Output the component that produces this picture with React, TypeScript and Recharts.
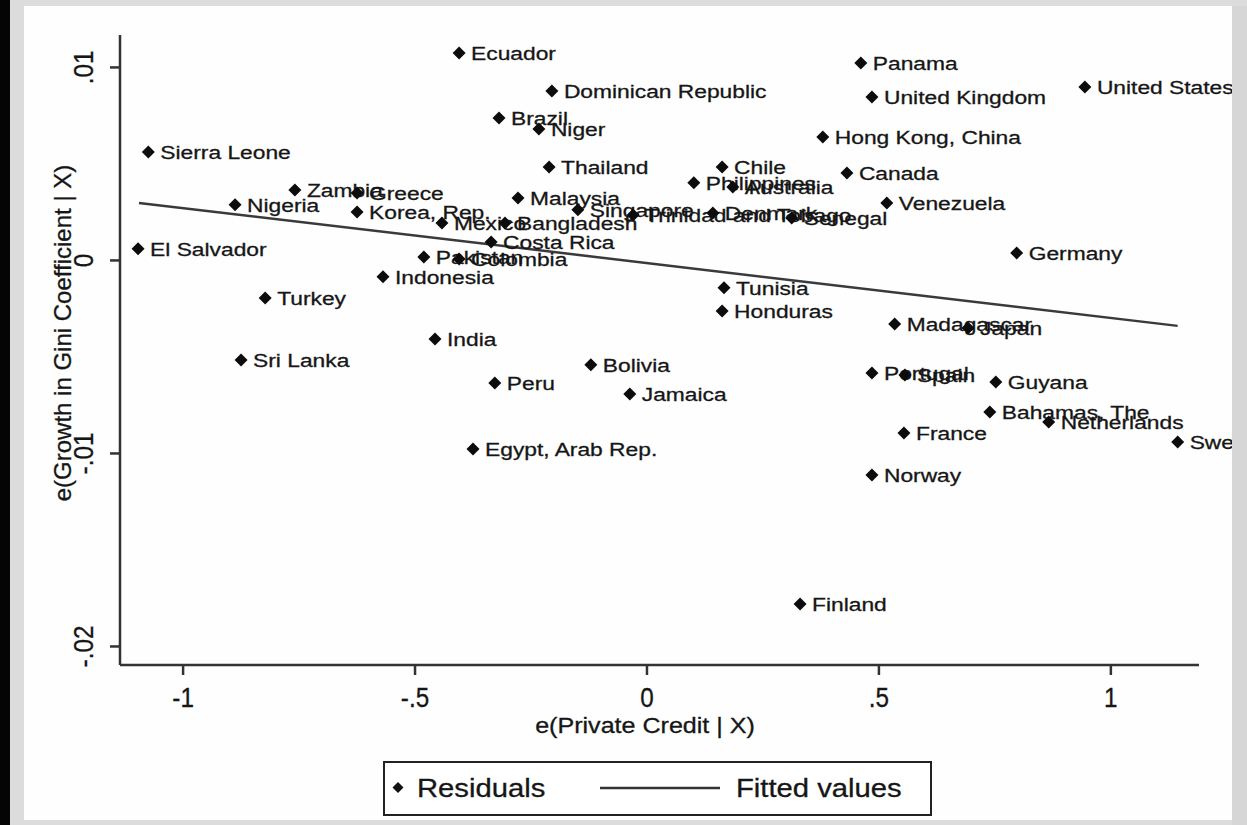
import React from "react";
import { ScatterChart, Scatter, XAxis, YAxis } from "recharts";

// residual plot: e(Growth in Gini | X) vs e(Private Credit | X)
const countries = [
  "Ecuador", "Dominican Republic", "Brazil", "Niger", "Sierra Leone", "Thailand",
  "Zambia", "Greece", "Nigeria", "Korea, Rep.", "Malaysia", "Mexico", "Bangladesh",
  "Singapore", "Trinidad and Tobago", "Denmark", "Senegal", "Costa Rica", "Pakistan",
  "Colombia", "El Salvador", "Indonesia", "Turkey", "India", "Sri Lanka", "Peru",
  "Egypt, Arab Rep.", "Bolivia", "Jamaica", "Tunisia", "Honduras", "Chile",
  "Philippines", "Australia", "Canada", "Hong Kong, China", "United Kingdom", "Panama",
  "United States", "Venezuela", "Germany", "Madagascar", "Japan", "Portugal", "Spain",
  "Guyana", "Bahamas, The", "Netherlands", "Sweden", "France", "Norway", "Finland",
];

const privateCredit = [
  -0.405, -0.205, -0.319, -0.233, -1.075, -0.211,
  -0.759, -0.625, -0.888, -0.625, -0.278, -0.442, -0.306,
  -0.149, -0.03, 0.142, 0.312, -0.336, -0.481,
  -0.405, -1.097, -0.569, -0.823, -0.457, -0.875, -0.328,
  -0.375, -0.121, -0.037, 0.166, 0.162, 0.162,
  0.101, 0.185, 0.431, 0.379, 0.485, 0.461,
  0.944, 0.517, 0.797, 0.534, 0.692, 0.485, 0.556,
  0.752, 0.739, 0.866, 1.144, 0.554, 0.485, 0.33,
];

const giniGrowth = [
  0.01075, 0.00878, 0.00738, 0.00681, 0.00562, 0.00484,
  0.00365, 0.0035, 0.00288, 0.00251, 0.00324, 0.00194, 0.00194,
  0.00262, 0.00236, 0.00246, 0.0022, 0.00096, 0.00018,
  0.00008, 0.0006, -0.00085, -0.00194, -0.00407, -0.00516, -0.00635,
  -0.00977, -0.00541, -0.00692, -0.00142, -0.00262, 0.00484,
  0.00402, 0.00381, 0.00453, 0.0064, 0.00847, 0.01023,
  0.00899, 0.00298, 0.00039, -0.00329, -0.0035, -0.00583, -0.00593,
  -0.0063, -0.00785, -0.00837, -0.0094, -0.00894, -0.01111, -0.0178,
];

const fittedX = [-1.095, 1.144];
const fittedY = [0.00298, -0.00339];

const xTicks = [-1, -0.5, 0, 0.5, 1];
const yTicks = [-0.02, -0.01, 0, 0.01];

const residuals = countries.map((name, i) => ({ name, x: privateCredit[i], y: giniGrowth[i] }));
const fitted = fittedX.map((x, i) => ({ x, y: fittedY[i] }));

const FONT = "'Liberation Sans', Arial, Helvetica, sans-serif";
const INK = "#161616";

// stata drops the leading zero
const fmt = (v: number) => (v === 0 ? "0" : String(v).replace(/^(-?)0\./, "$1."));

const CountryPoint = (props: any) => {
  const { cx, cy, payload } = props;
  if (cx == null || cy == null) return null;
  return (
    <g>
      <polygon
        points={`${cx},${cy - 6.5} ${cx + 6.5},${cy} ${cx},${cy + 6.5} ${cx - 6.5},${cy}`}
        fill="#0c0c0c"
      />
      <text
        transform={`translate(${cx + 12},${cy}) scale(1.2,1)`}
        fontSize={19}
        fontFamily={FONT}
        fill={INK}
        stroke={INK}
        strokeWidth={0.3}
        dominantBaseline="central"
      >
        {payload.name}
      </text>
    </g>
  );
};

const XTick = (props: any) => {
  const { x, y, payload } = props;
  return (
    <text
      transform={`translate(${x},${y + 21}) scale(0.9,1)`}
      fontSize={27}
      fontFamily={FONT}
      fill={INK}
      stroke={INK}
      strokeWidth={0.3}
      textAnchor="middle"
      dominantBaseline="central"
    >
      {fmt(payload.value)}
    </text>
  );
};

const YTick = (props: any) => {
  const { x, y, payload } = props;
  return (
    <text
      transform={`translate(${x - 24},${y}) rotate(-90) scale(0.9,1)`}
      fontSize={27}
      fontFamily={FONT}
      fill={INK}
      stroke={INK}
      strokeWidth={0.3}
      textAnchor="middle"
      dominantBaseline="central"
    >
      {fmt(payload.value)}
    </text>
  );
};

const XTitle = () => (
  <text
    transform="translate(645,726) scale(1.14,1)"
    fontSize={22}
    fontFamily={FONT}
    fill={INK}
    stroke={INK}
    strokeWidth={0.3}
    textAnchor="middle"
    dominantBaseline="central"
  >
    e(Private Credit | X)
  </text>
);

const YTitle = () => (
  <text
    transform="translate(62,333) rotate(-90)"
    fontSize={24}
    fontFamily={FONT}
    fill={INK}
    stroke={INK}
    strokeWidth={0.3}
    textAnchor="middle"
    dominantBaseline="central"
  >
    e(Growth in Gini Coefficient | X)
  </text>
);

const Legend = () => (
  <svg
    width={549}
    height={55}
    style={{ position: "absolute", left: 383, top: 761 }}
  >
    <rect x={1} y={1} width={547} height={53} fill="#fff" stroke="#222" strokeWidth={2} />
    <polygon points="15,21 20.5,26.5 15,32 9.5,26.5" fill="#111" />
    <text
      transform="translate(34,27) scale(1.17,1)"
      fontSize={25}
      fontFamily={FONT}
      fill={INK}
      stroke={INK}
      strokeWidth={0.3}
      dominantBaseline="central"
    >
      Residuals
    </text>
    <line x1={217} x2={337} y1={27} y2={27} stroke="#333" strokeWidth={2.5} />
    <text
      transform="translate(353,27) scale(1.17,1)"
      fontSize={25}
      fontFamily={FONT}
      fill={INK}
      stroke={INK}
      strokeWidth={0.3}
      dominantBaseline="central"
    >
      Fitted values
    </text>
  </svg>
);

export default function App() {
  return (
    <div
      style={{
        position: "absolute",
        left: 0,
        top: 0,
        width: 1247,
        height: 825,
        background: "#dcdcdc",
        overflow: "hidden",
      }}
    >
      <div style={{ position: "absolute", left: 0, top: 0, width: 10, height: 825, background: "#050505" }} />
      <div style={{ position: "absolute", left: 24, top: 6, width: 1208, height: 814, background: "#fefefe" }} />
      <div style={{ position: "absolute", left: 0, top: 0 }}>
        <ScatterChart
          width={1247}
          height={825}
          margin={{ top: 35, right: 48, bottom: 100, left: 60 }}
        >
          <XAxis
            type="number"
            dataKey="x"
            domain={[-1.136, 1.19]}
            ticks={xTicks}
            interval={0}
            height={60}
            tickSize={10}
            axisLine={{ stroke: "#333", strokeWidth: 2.5 }}
            tickLine={{ stroke: "#333", strokeWidth: 2.5 }}
            tick={<XTick />}
            label={<XTitle />}
          />
          <YAxis
            type="number"
            dataKey="y"
            domain={[-0.02096, 0.01168]}
            ticks={yTicks}
            interval={0}
            width={60}
            tickSize={10}
            axisLine={{ stroke: "#333", strokeWidth: 2.5 }}
            tickLine={{ stroke: "#333", strokeWidth: 2.5 }}
            tick={<YTick />}
            label={<YTitle />}
          />
          <Scatter
            name="Fitted values"
            data={fitted}
            line={{ stroke: "#3a3a3a", strokeWidth: 2.5 }}
            shape={() => <g />}
            isAnimationActive={false}
          />
          <Scatter
            name="Residuals"
            data={residuals}
            shape={<CountryPoint />}
            isAnimationActive={false}
          />
        </ScatterChart>
      </div>
      <div style={{ position: "absolute", left: 1232, top: 0, width: 15, height: 825, background: "#d6d6d6" }} />
      <div style={{ position: "absolute", left: 10, top: 0, width: 1237, height: 6, background: "#dcdcdc" }} />
      <Legend />
    </div>
  );
}
